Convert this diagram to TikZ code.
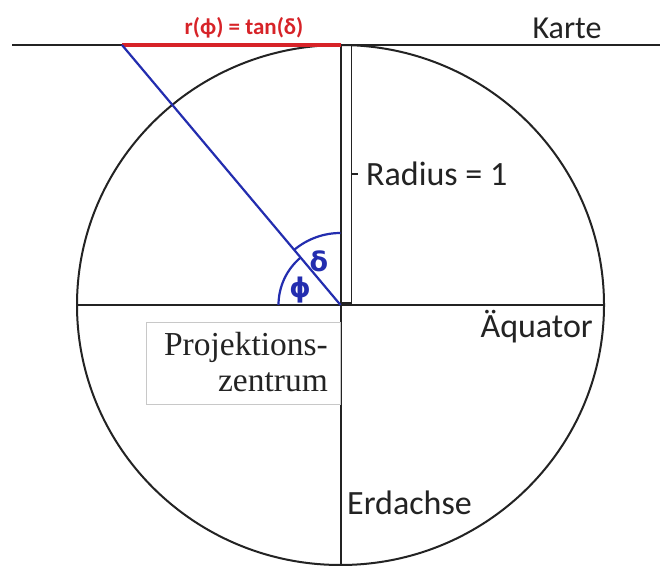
\documentclass[tikz,border=0pt]{standalone}
\usepackage{fontspec}
\usetikzlibrary{calc}
\setmainfont{Carlito}
\newfontfamily\serifface{Liberation Serif}
\newfontfamily\greekface{DejaVu Sans}
\definecolor{penblue}{RGB}{35,45,175}
\definecolor{penred}{RGB}{215,35,40}
\definecolor{boxgray}{RGB}{200,200,200}
\definecolor{ink}{RGB}{35,35,35}
\begin{document}
\begin{tikzpicture}[x=1pt,y=1pt,
  axisline/.style={draw=ink,line width=2pt},
  lbl/.style={font=\fontsize{34}{38}\selectfont,text=ink,inner sep=0pt},
  greek/.style={font=\greekface\bfseries\fontsize{27}{29}\selectfont,text=penblue,inner sep=0pt}]
\fill[white] (0,0) rectangle (660,565);
\useasboundingbox (0,0) rectangle (660,565);
\coordinate (O) at (340.5,260);
\coordinate (T) at (340.5,520);
\coordinate (B) at (340.5,0);
\coordinate (L) at (77,260);
\coordinate (R) at (604,260);
\coordinate (P) at (122,520);
\coordinate (KL) at (12,520);
\coordinate (KR) at (660,520);
% circle (earth)
\draw[axisline] (O) ellipse [x radius=263.5, y radius=260];
% map line
\draw[axisline] (KL) -- (KR);
% equator and axis
\draw[axisline] (L) -- (R);
\draw[axisline] (T) -- (B);
% radius bracket
\coordinate (RB1) at (351.5,520);
\coordinate (RB2) at (351.5,262);
\coordinate (RB3) at (340.5,262);
\draw[draw=ink,line width=1.5pt] (T) -- (RB1) -- (RB2) -- (RB3);
\coordinate (TK1) at (351.5,391);
\coordinate (TK2) at (358,391);
\draw[draw=ink,line width=1.5pt] (TK1) -- (TK2);
\node[lbl,anchor=west] (rad) at (366,391) {Radius = 1};
% red segment and label
\draw[penred,line width=3.4pt] (P) -- (T);
\node[font=\bfseries\fontsize{23}{24}\selectfont,text=penred,inner sep=0pt] (rlab) at (244,537) {r(ϕ) = tan(δ)};
% projection ray
\draw[penblue,line width=2.2pt] (O) -- (P);
% angle arcs
\draw[penblue,line width=2.2pt] ($(O)+(180:62)$) arc[start angle=180,end angle=130,radius=62];
\draw[penblue,line width=2.2pt] ($(O)+(130:72)$) arc[start angle=130,end angle=90,radius=72];
\node[greek] (delta) at (319,304) {δ};
\node[greek] (phi) at (300,275) {ϕ};
% labels
\node[font=\fontsize{32}{36}\selectfont,text=ink,inner sep=0pt,anchor=base] (karte) at (567,526) {Karte};
\node[lbl,anchor=base east] (aeq) at (593,228) {Äquator};
\node[lbl,anchor=base west] (erd) at (347,51) {Erdachse};
% projection centre box
\node[draw=boxgray,line width=0.8pt,fill=white,minimum width=194pt,minimum height=82pt,anchor=north east,inner sep=0pt] (pzbox) at (341,243) {};
\node[font=\serifface\fontsize{33.5}{36}\selectfont,text=ink,align=right,anchor=north east,inner sep=0pt] (pz) at ([xshift=-13pt,yshift=-10pt]pzbox.north east) {Projektions-\\zentrum};
\end{tikzpicture}
\end{document}
